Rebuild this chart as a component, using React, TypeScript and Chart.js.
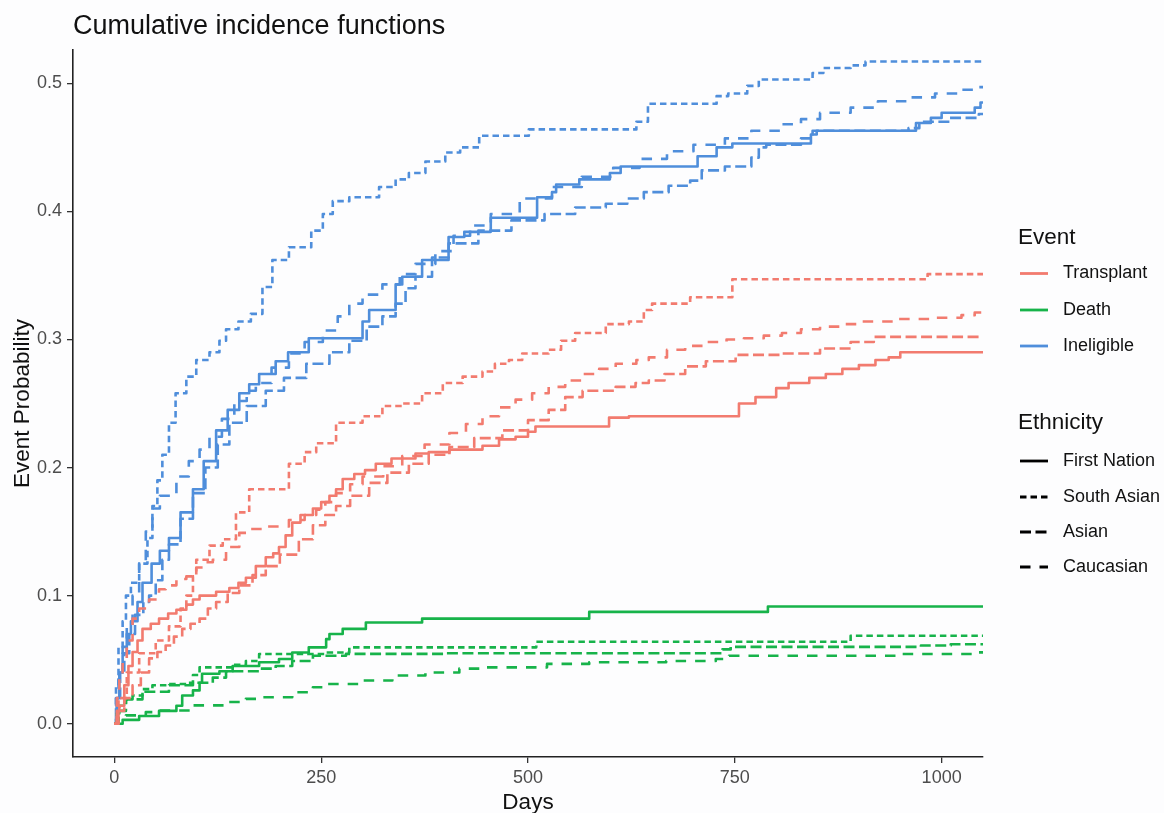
import React, { useEffect, useRef } from "react";
import { Chart, registerables } from "chart.js";

Chart.register(...registerables);

// ---------- axes ----------
const X_TICKS = [0, 250, 500, 750, 1000];
const Y_TICKS = [0, 0.1, 0.2, 0.3, 0.4, 0.5];
const X_MIN = -50;
const X_MAX = 1050;
const Y_MIN = -0.026;
const Y_MAX = 0.526;
const END_DAY = 1050;

const TITLE = "Cumulative incidence functions";
const X_TITLE = "Days";
const Y_TITLE = "Event Probability";

// ---------- legend groups ----------
const EVENTS = ["Transplant", "Death", "Ineligible"];
const ETHNICITIES = ["First Nation", "South Asian", "Asian", "Caucasian"];

// ---------- series: [day, cumulative incidence] ----------
const TRANSPLANT_FIRST_NATION: [number, number][] = [
  [0, 0], [3, 0.01], [6, 0.014], [12, 0.03], [17, 0.045], [22, 0.056], [28, 0.065], [34, 0.074],
  [44, 0.078], [54, 0.082], [65, 0.086], [75, 0.089], [87, 0.093], [95, 0.097], [103, 0.1],
  [123, 0.103], [139, 0.106], [150, 0.11], [159, 0.114], [171, 0.123], [183, 0.13], [192, 0.133],
  [199, 0.138], [207, 0.147], [215, 0.157], [225, 0.163], [240, 0.168], [250, 0.173], [260, 0.178],
  [268, 0.183], [276, 0.191], [290, 0.195], [303, 0.198], [316, 0.203], [335, 0.207], [364, 0.211],
  [380, 0.212], [405, 0.214], [445, 0.217], [465, 0.222], [485, 0.224], [500, 0.228], [509, 0.232],
  [598, 0.239], [622, 0.24], [755, 0.25], [775, 0.255], [800, 0.262], [815, 0.266], [840, 0.27],
  [860, 0.273], [880, 0.277], [900, 0.28], [920, 0.284], [936, 0.286], [950, 0.29],
];
const TRANSPLANT_SOUTH_ASIAN: [number, number][] = [
  [0, 0], [5, 0.02], [15, 0.04], [30, 0.055], [50, 0.065], [66, 0.076], [80, 0.09], [87, 0.1],
  [95, 0.115], [99, 0.128], [115, 0.139], [131, 0.144], [147, 0.165], [163, 0.183], [211, 0.203],
  [230, 0.212], [244, 0.219], [268, 0.235], [300, 0.24], [324, 0.248], [348, 0.25], [372, 0.258],
  [397, 0.266], [421, 0.271], [445, 0.275], [460, 0.281], [477, 0.284], [493, 0.289], [525, 0.292],
  [540, 0.299], [557, 0.305], [594, 0.312], [622, 0.314], [640, 0.323], [650, 0.328], [696, 0.333],
  [747, 0.347], [983, 0.351],
];
const TRANSPLANT_ASIAN: [number, number][] = [
  [0, 0], [5, 0.01], [12, 0.02], [22, 0.03], [32, 0.04], [42, 0.051], [52, 0.056], [62, 0.061],
  [72, 0.068], [82, 0.074], [92, 0.078], [103, 0.082], [113, 0.09], [123, 0.095], [137, 0.102],
  [151, 0.108], [167, 0.116], [183, 0.123], [200, 0.132], [223, 0.144], [240, 0.155], [255, 0.163],
  [268, 0.17], [285, 0.178], [308, 0.188], [330, 0.196], [356, 0.203], [380, 0.21], [405, 0.216],
  [435, 0.223], [469, 0.229], [500, 0.237], [525, 0.245], [545, 0.255], [566, 0.26], [606, 0.263],
  [630, 0.266], [646, 0.268], [665, 0.273], [690, 0.279], [715, 0.283], [751, 0.288], [807, 0.289],
  [853, 0.293], [890, 0.298], [918, 0.302],
];
const TRANSPLANT_CAUCASIAN: [number, number][] = [
  [0, 0], [3, 0.02], [6, 0.035], [10, 0.051], [15, 0.065], [22, 0.082], [30, 0.09], [42, 0.097],
  [54, 0.105], [62, 0.108], [75, 0.113], [87, 0.115], [99, 0.122], [110, 0.126], [119, 0.128],
  [135, 0.138], [151, 0.149], [165, 0.152], [183, 0.154], [211, 0.159], [230, 0.163], [244, 0.167],
  [255, 0.173], [268, 0.18], [285, 0.187], [300, 0.193], [325, 0.201], [348, 0.209], [375, 0.218],
  [405, 0.227], [425, 0.234], [445, 0.24], [465, 0.247], [485, 0.253], [505, 0.258], [525, 0.263],
  [545, 0.268], [566, 0.273], [586, 0.277], [606, 0.281], [631, 0.284], [646, 0.286], [668, 0.292],
  [690, 0.295], [714, 0.298], [740, 0.3], [761, 0.301], [785, 0.303], [807, 0.305], [830, 0.308],
  [853, 0.31], [877, 0.312], [900, 0.314], [946, 0.316], [992, 0.317], [1024, 0.319], [1040, 0.321],
];

const DEATH_FIRST_NATION: [number, number][] = [
  [0, 0], [10, 0.003], [30, 0.006], [54, 0.01], [75, 0.014], [82, 0.022], [95, 0.026], [103, 0.032],
  [106, 0.039], [127, 0.041], [143, 0.045], [175, 0.048], [199, 0.0505], [215, 0.0556], [235, 0.0596],
  [256, 0.066], [260, 0.07], [276, 0.074], [304, 0.079], [372, 0.082], [574, 0.0873], [790, 0.0915],
];
const DEATH_SOUTH_ASIAN: [number, number][] = [
  [0, 0], [3, 0.008], [6, 0.014], [14, 0.019], [22, 0.022], [34, 0.027], [46, 0.03], [66, 0.031],
  [87, 0.032], [95, 0.038], [103, 0.044], [143, 0.046], [159, 0.049], [175, 0.0544], [256, 0.0556],
  [284, 0.0596], [510, 0.064], [890, 0.0687],
];
const DEATH_ASIAN: [number, number][] = [
  [0, 0], [5, 0.01], [14, 0.019], [34, 0.025], [66, 0.03], [95, 0.032], [119, 0.036], [135, 0.041],
  [175, 0.043], [195, 0.045], [215, 0.049], [240, 0.053], [280, 0.0545], [400, 0.055], [735, 0.058],
  [745, 0.06], [975, 0.061], [1011, 0.062],
];
const DEATH_CAUCASIAN: [number, number][] = [
  [0, 0], [5, 0.004], [14, 0.0065], [38, 0.009], [54, 0.0103], [95, 0.0143], [135, 0.0169],
  [159, 0.0194], [175, 0.0207], [215, 0.0246], [240, 0.0285], [256, 0.031], [296, 0.0337],
  [336, 0.0376], [376, 0.04], [417, 0.043], [443, 0.044], [523, 0.0467], [574, 0.048], [667, 0.049],
  [727, 0.0505], [743, 0.053], [947, 0.0544], [1045, 0.0557],
];

const INELIGIBLE_FIRST_NATION: [number, number][] = [
  [0, 0], [3, 0.02], [6, 0.04], [10, 0.055], [15, 0.07], [20, 0.08], [28, 0.095], [34, 0.11],
  [45, 0.125], [55, 0.135], [66, 0.145], [80, 0.165], [95, 0.183], [108, 0.205], [123, 0.229],
  [137, 0.245], [151, 0.258], [163, 0.265], [175, 0.273], [195, 0.283], [210, 0.29], [235, 0.301],
  [300, 0.314], [308, 0.323], [340, 0.343], [348, 0.349], [372, 0.362], [404, 0.38], [423, 0.384],
  [455, 0.395], [511, 0.411], [529, 0.415], [534, 0.421], [562, 0.425], [599, 0.43], [612, 0.435],
  [705, 0.443], [728, 0.45], [747, 0.453], [842, 0.46], [849, 0.463], [969, 0.469], [987, 0.473],
  [1000, 0.477], [1040, 0.481], [1047, 0.485],
];
const INELIGIBLE_SOUTH_ASIAN: [number, number][] = [
  [0, 0], [2, 0.03], [5, 0.06], [10, 0.08], [14, 0.1], [20, 0.11], [30, 0.125], [40, 0.145],
  [46, 0.17], [52, 0.19], [58, 0.21], [66, 0.235], [74, 0.258], [87, 0.271], [99, 0.284], [115, 0.29],
  [127, 0.299], [135, 0.308], [150, 0.314], [165, 0.32], [179, 0.341], [191, 0.362], [211, 0.372],
  [238, 0.385], [252, 0.398], [264, 0.408], [284, 0.411], [320, 0.419], [340, 0.425], [356, 0.43],
  [376, 0.439], [400, 0.446], [418, 0.45], [441, 0.459], [501, 0.464], [631, 0.47], [645, 0.484],
  [728, 0.49], [742, 0.492], [765, 0.498], [779, 0.503], [844, 0.508], [857, 0.512], [890, 0.514],
  [908, 0.517],
];
const INELIGIBLE_ASIAN: [number, number][] = [
  [0, 0], [3, 0.02], [7, 0.04], [12, 0.055], [18, 0.07], [25, 0.085], [35, 0.095], [42, 0.1],
  [50, 0.112], [58, 0.128], [66, 0.14], [80, 0.16], [95, 0.18], [110, 0.2], [125, 0.218], [139, 0.235],
  [160, 0.248], [183, 0.26], [205, 0.27], [232, 0.281], [260, 0.29], [284, 0.299], [305, 0.31],
  [324, 0.318], [340, 0.328], [352, 0.34], [364, 0.349], [384, 0.364], [404, 0.375], [440, 0.385],
  [480, 0.393], [520, 0.398], [557, 0.403], [594, 0.406], [620, 0.41], [640, 0.415], [670, 0.42],
  [696, 0.424], [710, 0.432], [738, 0.435], [770, 0.442], [779, 0.45], [788, 0.452], [830, 0.457],
  [844, 0.463], [960, 0.465], [973, 0.47], [1010, 0.473], [1045, 0.476],
];
const INELIGIBLE_CAUCASIAN: [number, number][] = [
  [0, 0], [2, 0.02], [5, 0.04], [10, 0.06], [15, 0.075], [22, 0.1], [30, 0.125], [38, 0.15],
  [46, 0.168], [55, 0.178], [75, 0.193], [90, 0.205], [103, 0.214], [115, 0.224], [130, 0.238],
  [145, 0.252], [160, 0.26], [171, 0.266], [190, 0.278], [211, 0.289], [230, 0.298], [252, 0.307],
  [270, 0.318], [284, 0.328], [300, 0.335], [324, 0.343], [345, 0.351], [364, 0.359], [388, 0.369],
  [410, 0.381], [430, 0.389], [455, 0.398], [490, 0.41], [529, 0.419], [565, 0.427], [603, 0.434],
  [635, 0.441], [668, 0.447], [700, 0.452], [738, 0.457], [770, 0.463], [807, 0.468], [830, 0.472],
  [853, 0.477], [890, 0.481], [923, 0.486], [960, 0.489], [992, 0.492], [1020, 0.495], [1045, 0.497],
];

// ---------- styles ----------
const FONT = '"Liberation Sans", Arial, Helvetica, sans-serif';
const BG = "#fdfdfe";
const EVENT_COLORS = ["#F27B6F", "#17B34A", "#4F8EDB"];
const ETHNICITY_DASHES: number[][] = [[], [6.5, 4], [11, 4.5], [10.5, 9]];
const LINE_WIDTH = 2.6;

const SERIES: { event: number; eth: number; pts: [number, number][] }[] = [
  { event: 0, eth: 0, pts: TRANSPLANT_FIRST_NATION },
  { event: 0, eth: 1, pts: TRANSPLANT_SOUTH_ASIAN },
  { event: 0, eth: 2, pts: TRANSPLANT_ASIAN },
  { event: 0, eth: 3, pts: TRANSPLANT_CAUCASIAN },
  { event: 1, eth: 0, pts: DEATH_FIRST_NATION },
  { event: 1, eth: 1, pts: DEATH_SOUTH_ASIAN },
  { event: 1, eth: 2, pts: DEATH_ASIAN },
  { event: 1, eth: 3, pts: DEATH_CAUCASIAN },
  { event: 2, eth: 0, pts: INELIGIBLE_FIRST_NATION },
  { event: 2, eth: 1, pts: INELIGIBLE_SOUTH_ASIAN },
  { event: 2, eth: 2, pts: INELIGIBLE_ASIAN },
  { event: 2, eth: 3, pts: INELIGIBLE_CAUCASIAN },
];

const textPlugin = {
  id: "cifTexts",
  afterDraw(chart: any) {
    const ctx = chart.ctx as CanvasRenderingContext2D;
    const area = chart.chartArea;
    ctx.save();
    ctx.fillStyle = "#111";
    // title
    ctx.font = `27px ${FONT}`;
    ctx.textAlign = "left";
    ctx.textBaseline = "alphabetic";
    ctx.fillText(TITLE, area.left, 34);
    // x title
    ctx.font = `22.5px ${FONT}`;
    ctx.textAlign = "center";
    ctx.fillText(X_TITLE, (area.left + area.right) / 2, 809);
    // y title
    ctx.save();
    ctx.translate(23, (area.top + area.bottom) / 2);
    ctx.rotate(-Math.PI / 2);
    ctx.textBaseline = "middle";
    ctx.fillText(Y_TITLE, 0, 0);
    ctx.restore();

    // legends
    const lx = 1018;
    const keyX0 = 1020;
    const keyX1 = 1048;
    const labelX = 1063;
    ctx.textAlign = "left";
    ctx.textBaseline = "middle";
    ctx.font = `22.5px ${FONT}`;
    ctx.fillText("Event", lx, 238);
    ctx.fillText("Ethnicity", lx, 423);
    const eventY = [273.5, 310, 346];
    const ethY = [461, 497, 532, 567];
    ctx.font = `18px ${FONT}`;
    ctx.lineCap = "butt";
    EVENTS.forEach((name, i) => {
      ctx.strokeStyle = EVENT_COLORS[i];
      ctx.lineWidth = 2.8;
      ctx.setLineDash([]);
      ctx.beginPath();
      ctx.moveTo(keyX0, eventY[i]);
      ctx.lineTo(keyX1, eventY[i]);
      ctx.stroke();
      ctx.fillStyle = "#111";
      ctx.fillText(name, labelX, eventY[i]);
    });
    ETHNICITIES.forEach((name, i) => {
      ctx.strokeStyle = "#000";
      ctx.lineWidth = 2.8;
      ctx.setLineDash(ETHNICITY_DASHES[i]);
      ctx.beginPath();
      ctx.moveTo(keyX0, ethY[i]);
      ctx.lineTo(keyX1, ethY[i]);
      ctx.stroke();
      ctx.setLineDash([]);
      ctx.fillStyle = "#111";
      ctx.fillText(name, labelX, ethY[i]);
    });
    ctx.restore();
  },
};

export default function App() {
  const canvasRef = useRef<HTMLCanvasElement | null>(null);

  useEffect(() => {
    const canvas = canvasRef.current;
    if (!canvas) return;
    const datasets = SERIES.map((s) => {
      const last = s.pts[s.pts.length - 1];
      const pts = last[0] < END_DAY ? [...s.pts, [END_DAY, last[1]] as [number, number]] : s.pts;
      return {
        label: `${EVENTS[s.event]} - ${ETHNICITIES[s.eth]}`,
        data: pts.map(([x, y]) => ({ x, y })),
        borderColor: EVENT_COLORS[s.event],
        backgroundColor: EVENT_COLORS[s.event],
        borderDash: ETHNICITY_DASHES[s.eth],
        borderWidth: LINE_WIDTH,
        borderCapStyle: "butt" as const,
        borderJoinStyle: "round" as const,
        stepped: "before" as const,
        pointRadius: 0,
        fill: false,
        tension: 0,
      };
    });

    const chart = new Chart(canvas, {
      type: "line",
      data: { datasets },
      options: {
        responsive: false,
        animation: false,
        devicePixelRatio: 1,
        layout: { padding: { left: 0, right: 181, top: 50, bottom: 0 } },
        plugins: {
          legend: { display: false },
          title: { display: false },
          tooltip: { enabled: false },
        },
        scales: {
          x: {
            type: "linear",
            min: X_MIN,
            max: X_MAX,
            afterBuildTicks: (s: any) => {
              s.ticks = X_TICKS.map((v) => ({ value: v }));
            },
            afterFit: (s: any) => {
              s.height = 56;
            },
            grid: { drawOnChartArea: false, drawTicks: true, tickLength: 6, color: "#333", lineWidth: 1.3 },
            border: { display: true, color: "#222", width: 1.6 },
            ticks: {
              color: "#4d4d4d",
              font: { family: FONT, size: 18 },
              padding: 4,
              maxRotation: 0,
              autoSkip: false,
              callback: (v: any) => String(v),
            },
          },
          y: {
            type: "linear",
            min: Y_MIN,
            max: Y_MAX,
            afterBuildTicks: (s: any) => {
              s.ticks = Y_TICKS.map((v) => ({ value: v }));
            },
            afterFit: (s: any) => {
              s.width = 73;
            },
            grid: { drawOnChartArea: false, drawTicks: true, tickLength: 6, color: "#333", lineWidth: 1.3 },
            border: { display: true, color: "#222", width: 1.6 },
            ticks: {
              color: "#4d4d4d",
              font: { family: FONT, size: 18 },
              padding: 5,
              autoSkip: false,
              callback: (v: any) => Number(v).toFixed(1),
            },
          },
        },
      },
      plugins: [textPlugin],
    });
    return () => chart.destroy();
  }, []);

  return (
    <div style={{ position: "fixed", left: 0, top: 0, width: 1164, height: 813, background: BG }}>
      <canvas ref={canvasRef} width={1164} height={813} style={{ display: "block", width: 1164, height: 813 }} />
    </div>
  );
}
